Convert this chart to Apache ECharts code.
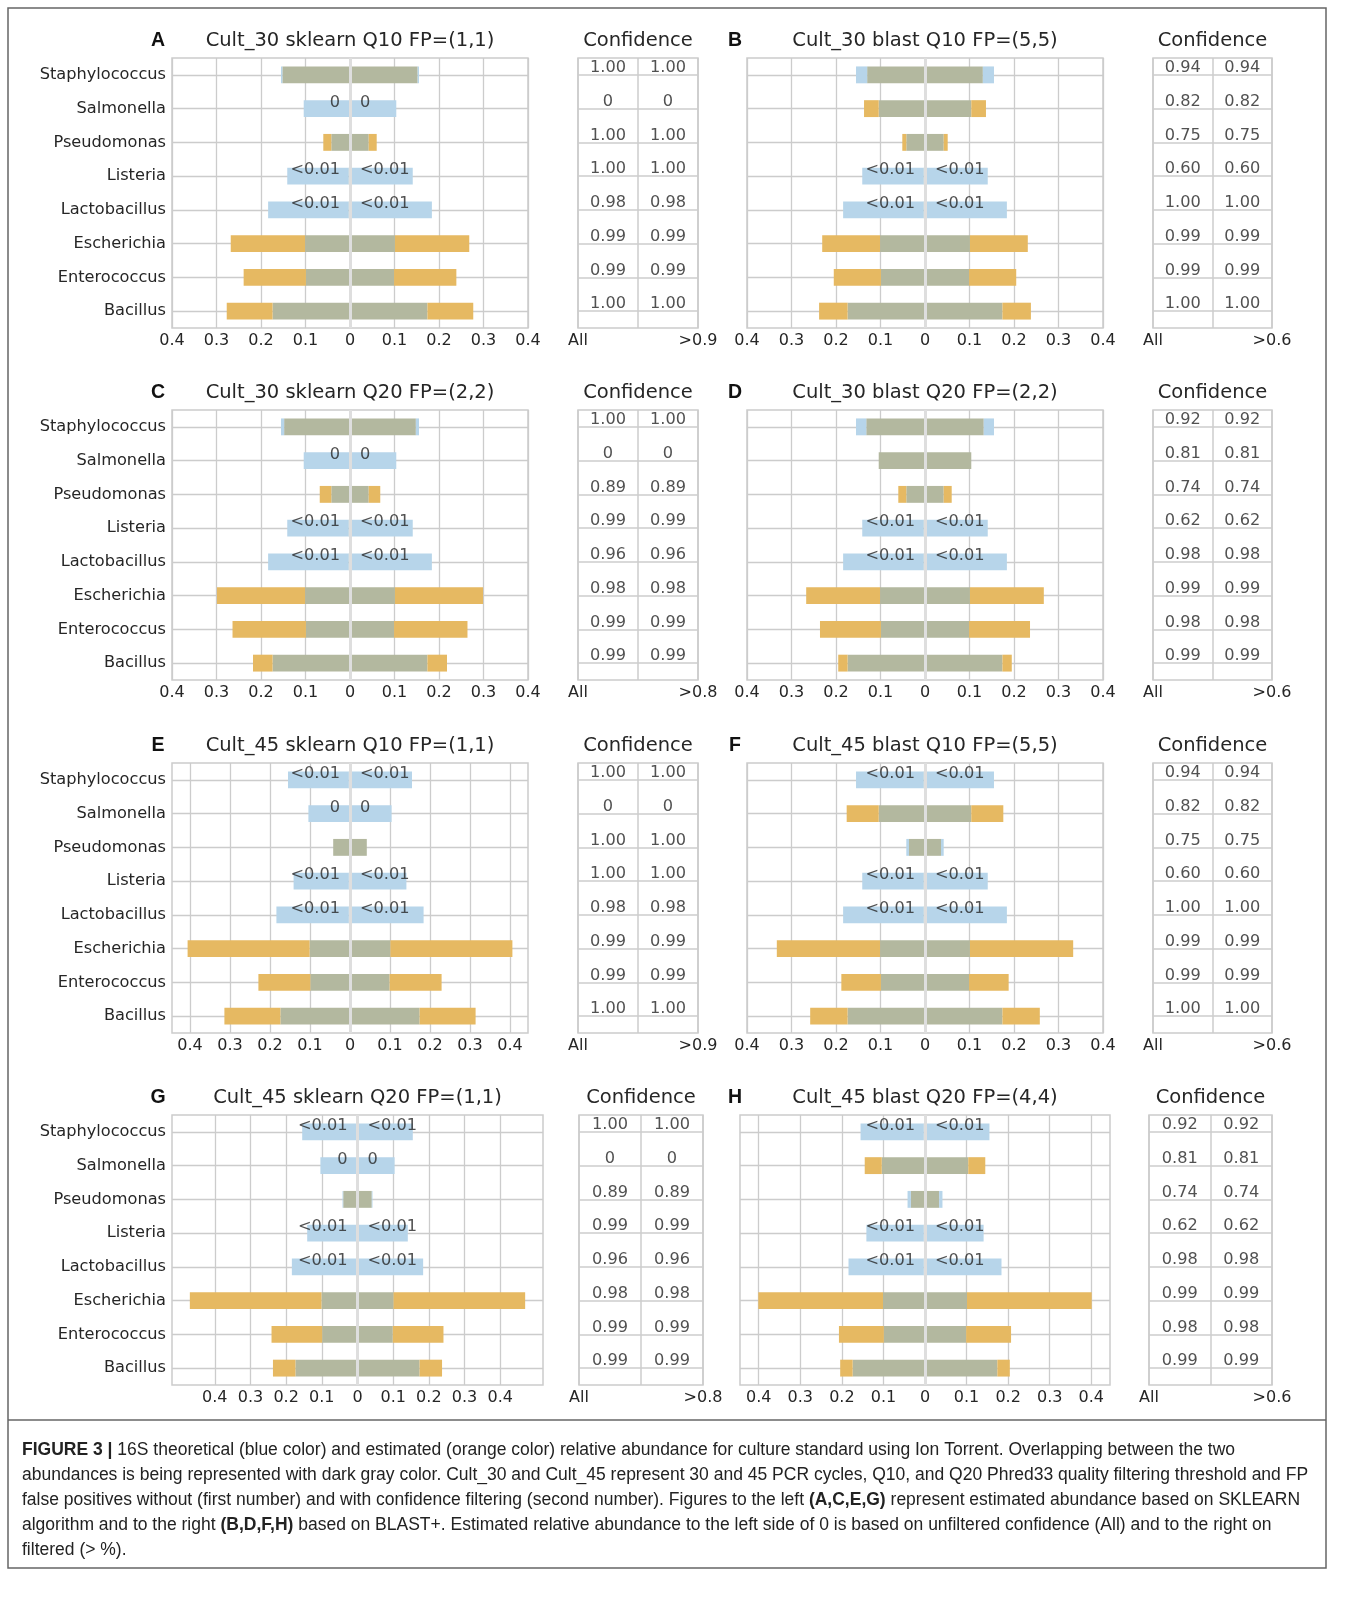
<!DOCTYPE html>
<html><head><meta charset="utf-8">
<script src="https://cdn.jsdelivr.net/npm/echarts@6/dist/echarts.min.js"></script>
<style>html,body{margin:0;padding:0;background:#fff}#c{width:1360px;height:1604px}</style>
</head><body><div id="c"></div><script>
// ---------- DATA ----------
const categories = ['Staphylococcus','Salmonella','Pseudomonas','Listeria','Lactobacillus','Escherichia','Enterococcus','Bacillus'];
const theoretical = [0.155, 0.104, 0.042, 0.141, 0.184, 0.101, 0.099, 0.174];

const estA = [0.152, 0, 0.060, 0.003, 0.003, 0.268, 0.239, 0.277];
const estB = [0.130, 0.137, 0.051, 0.003, 0.003, 0.231, 0.205, 0.238];
const estC = [0.148, 0, 0.068, 0.003, 0.003, 0.299, 0.264, 0.218];
const estD = [0.132, 0.104, 0.060, 0.003, 0.003, 0.267, 0.236, 0.195];
const estE = [0.003, 0, 0.042, 0.003, 0.003, 0.406, 0.229, 0.314];
const estF = [0.003, 0.176, 0.036, 0.003, 0.003, 0.333, 0.188, 0.258];
const estG = [0.003, 0, 0.040, 0.003, 0.003, 0.470, 0.241, 0.237];
const estH = [0.003, 0.145, 0.034, 0.003, 0.003, 0.401, 0.207, 0.204];

const labelsA = ['', '0', '', '<0.01', '<0.01', '', '', ''];
const labelsB = ['', '', '', '<0.01', '<0.01', '', '', ''];
const labelsC = ['', '0', '', '<0.01', '<0.01', '', '', ''];
const labelsD = ['', '', '', '<0.01', '<0.01', '', '', ''];
const labelsE = ['<0.01', '0', '', '<0.01', '<0.01', '', '', ''];
const labelsF = ['<0.01', '', '', '<0.01', '<0.01', '', '', ''];
const labelsG = ['<0.01', '0', '', '<0.01', '<0.01', '', '', ''];
const labelsH = ['<0.01', '', '', '<0.01', '<0.01', '', '', ''];

const confA = ['1.00','0','1.00','1.00','0.98','0.99','0.99','1.00'];
const confB = ['0.94','0.82','0.75','0.60','1.00','0.99','0.99','1.00'];
const confC = ['1.00','0','0.89','0.99','0.96','0.98','0.99','0.99'];
const confD = ['0.92','0.81','0.74','0.62','0.98','0.99','0.98','0.99'];
const confE = ['1.00','0','1.00','1.00','0.98','0.99','0.99','1.00'];
const confF = ['0.94','0.82','0.75','0.60','1.00','0.99','0.99','1.00'];
const confG = ['1.00','0','0.89','0.99','0.96','0.98','0.99','0.99'];
const confH = ['0.92','0.81','0.74','0.62','0.98','0.99','0.98','0.99'];

const panelLetters = ['A','B','C','D','E','F','G','H'];
const panelTitles = ['Cult_30 sklearn Q10 FP=(1,1)','Cult_30 blast Q10 FP=(5,5)','Cult_30 sklearn Q20 FP=(2,2)','Cult_30 blast Q20 FP=(2,2)',
  'Cult_45 sklearn Q10 FP=(1,1)','Cult_45 blast Q10 FP=(5,5)','Cult_45 sklearn Q20 FP=(1,1)','Cult_45 blast Q20 FP=(4,4)'];
const filterLabels = ['>0.9','>0.6','>0.8','>0.6','>0.9','>0.6','>0.8','>0.6'];
const tickValues = [-0.4,-0.3,-0.2,-0.1,0,0.1,0.2,0.3,0.4];
const tickLabels = ['0.4','0.3','0.2','0.1','0','0.1','0.2','0.3','0.4'];
const tableAxisLabels = ['All'];

const estimates = [estA, estB, estC, estD, estE, estF, estG, estH];
const barLabels = [labelsA, labelsB, labelsC, labelsD, labelsE, labelsF, labelsG, labelsH];
const confidences = [confA, confB, confC, confD, confE, confF, confG, confH];

// ---------- LAYOUT ----------
const rowTop = [58, 410, 763, 1115];
const titleY = [41, 393, 746, 1098];
const plotH = 270;
const layout = [
  {row:0, plot:[172,356], table:[578,120], range:0.4, yl:true, lx:158},
  {row:0, plot:[747,356], table:[1153,119], range:0.4, yl:false, lx:735},
  {row:1, plot:[172,356], table:[578,120], range:0.4, yl:true, lx:158},
  {row:1, plot:[747,356], table:[1153,119], range:0.4, yl:false, lx:735},
  {row:2, plot:[172,356], table:[578,120], range:0.445, yl:true, lx:158},
  {row:2, plot:[747,356], table:[1153,119], range:0.4, yl:false, lx:735},
  {row:3, plot:[172,371], table:[579,124], range:0.52, yl:true, lx:158},
  {row:3, plot:[740,370], table:[1149,123], range:0.445, yl:false, lx:735}
];
const FONT = 'DejaVu Sans';
const TXT = '#262626';
const GRID = '#cccccc';
const C_GRAY = '#b3b89f', C_BLUE = '#b7d5ea', C_ORANGE = '#e6b962';
const FS_TICK = 16, FS_CAT = 16.2, FS_TITLE = 19.5, FS_VAL = 16.2;

const grids = [], xAxes = [], yAxes = [], series = [], graphics = [];
let gi = 0;

layout.forEach((L, p) => {
  const top = rowTop[L.row];
  const est = estimates[p];
  const labs = barLabels[p];
  const conf = confidences[p];
  // ---- bar grid
  grids.push({left:L.plot[0], top:top, width:L.plot[1], height:plotH, show:true,
    borderColor:GRID, borderWidth:1.5, backgroundColor:'rgba(0,0,0,0)'});
  xAxes.push({gridIndex:gi, type:'value', min:-L.range, max:L.range,
    axisLine:{show:false},
    axisTick:{show:false, customValues:tickValues},
    axisLabel:{customValues:tickValues, fontFamily:FONT, fontSize:FS_TICK, color:TXT, margin:5,
      formatter:v => tickLabels[tickValues.findIndex(t => Math.abs(t - v) < 1e-6)] || ''},
    splitLine:{show:true, customValues:tickValues, lineStyle:{color:GRID, width:1.3}}});
  yAxes.push({gridIndex:gi, type:'category', data:categories, inverse:true,
    axisLine:{show:false}, axisTick:{show:false, alignWithLabel:true},
    axisLabel:{show:L.yl, fontFamily:FONT, fontSize:FS_CAT, color:TXT, margin:6},
    splitLine:{show:true, alignWithLabel:true, lineStyle:{color:GRID, width:1.3}}});
  const gray = theoretical.map((t,i) => Math.min(t, est[i]));
  const blueEx = theoretical.map((t,i) => Math.max(0, t - est[i]));
  const orEx = theoretical.map((t,i) => Math.max(0, est[i] - t));
  [-1, 1].forEach(s => {
    [[gray, C_GRAY],[blueEx, C_BLUE],[orEx, C_ORANGE]].forEach(([arr, col], j) => {
      const ser = {type:'bar', xAxisIndex:gi, yAxisIndex:gi, stack:'p'+p, barWidth:'50%',
        silent:true, animation:false, itemStyle:{color:col},
        data:arr.map(v => s * v)};
      if (s === 1 && j === 0) {
        ser.markLine = {silent:true, symbol:'none', z:5, animation:false, label:{show:false},
          lineStyle:{color:'#dedede', width:3, type:'solid'}, data:[{xAxis:0}]};
      }
      series.push(ser);
    });
    series.push({type:'scatter', xAxisIndex:gi, yAxisIndex:gi, symbolSize:0, silent:true, animation:false, z:6,
      data:labs.map((l,i) => l ? {value:[0, i], name:l} : null).filter(d => d),
      label:{show:true, position: s < 0 ? 'left' : 'right', distance:10, offset:[0,-6],
        formatter:'{b}', fontFamily:FONT, fontSize:FS_VAL, color:TXT}});
  });
  gi++;
  // ---- confidence table grid
  grids.push({left:L.table[0], top:top, width:L.table[1], height:plotH, show:true,
    borderColor:GRID, borderWidth:1.5, backgroundColor:'rgba(0,0,0,0)'});
  xAxes.push({gridIndex:gi, type:'value', min:0, max:2, interval:1,
    axisLine:{show:false}, axisTick:{show:false},
    axisLabel:{fontFamily:FONT, fontSize:FS_TICK, color:TXT, margin:5, showMinLabel:true, showMaxLabel:true,
      formatter:v => v === 0 ? tableAxisLabels[0] : (v === 2 ? filterLabels[p] : '')},
    splitLine:{show:true, lineStyle:{color:GRID, width:1.5}}});
  yAxes.push({gridIndex:gi, type:'category', data:categories, inverse:true,
    axisLine:{show:false}, axisTick:{show:false, alignWithLabel:true}, axisLabel:{show:false},
    splitLine:{show:true, alignWithLabel:true, lineStyle:{color:GRID, width:1.5}}});
  [0.5, 1.5].forEach(cx => {
    series.push({type:'scatter', xAxisIndex:gi, yAxisIndex:gi, symbolSize:0, silent:true, animation:false,
      data:conf.map((c,i) => ({value:[cx, i], name:c})),
      label:{show:true, position:'inside', offset:[0,-7], formatter:'{b}', fontFamily:FONT, fontSize:FS_VAL, color:TXT}});
  });
  gi++;
  // ---- texts
  graphics.push({type:'text', x:L.lx, y:titleY[L.row], style:{text:panelLetters[p], fontFamily:'Liberation Sans',
    fontWeight:'bold', fontSize:19.5, fill:'#111', align:'center', verticalAlign:'middle'}});
  graphics.push({type:'text', x:L.plot[0] + L.plot[1]/2, y:titleY[L.row], style:{text:panelTitles[p], fontFamily:FONT,
    fontSize:FS_TITLE, fill:TXT, align:'center', verticalAlign:'middle'}});
  graphics.push({type:'text', x:L.table[0] + L.table[1]/2, y:titleY[L.row], style:{text:'Confidence', fontFamily:FONT,
    fontSize:FS_TITLE, fill:TXT, align:'center', verticalAlign:'middle'}});
});

// caption + frame
const captionLines = [
  '{b|FIGURE 3 |} 16S theoretical (blue color) and estimated (orange color) relative abundance for culture standard using Ion Torrent. Overlapping between the two',
  'abundances is being represented with dark gray color. Cult_30 and Cult_45 represent 30 and 45 PCR cycles, Q10, and Q20 Phred33 quality filtering threshold and FP',
  'false positives without (first number) and with confidence filtering (second number). Figures to the left {b|(A,C,E,G)} represent estimated abundance based on SKLEARN',
  'algorithm and to the right {b|(B,D,F,H)} based on BLAST+. Estimated relative abundance to the left side of 0 is based on unfiltered confidence (All) and to the right on',
  'filtered (> %).'
];
captionLines.forEach((t, i) => {
  graphics.push({type:'text', x:22, y:1450 + i*25, style:{text:t, fontFamily:'Liberation Sans', fontSize:17.5,
    fill:'#222', align:'left', verticalAlign:'middle',
    rich:{b:{fontWeight:'bold', fontFamily:'Liberation Sans', fontSize:17.5, fill:'#222'}}}});
});
graphics.push({type:'rect', shape:{x:8, y:8, width:1318, height:1560}, style:{fill:'none', stroke:'#666', lineWidth:1.5}, silent:true});
graphics.push({type:'line', shape:{x1:8, y1:1420, x2:1326, y2:1420}, style:{stroke:'#666', lineWidth:1.5}, silent:true});

const chart = echarts.init(document.getElementById('c'), null, {renderer:'canvas'});
chart.setOption({
  animation:false,
  backgroundColor:'#ffffff',
  grid:grids, xAxis:xAxes, yAxis:yAxes, series:series, graphic:graphics
});
</script></body></html>
